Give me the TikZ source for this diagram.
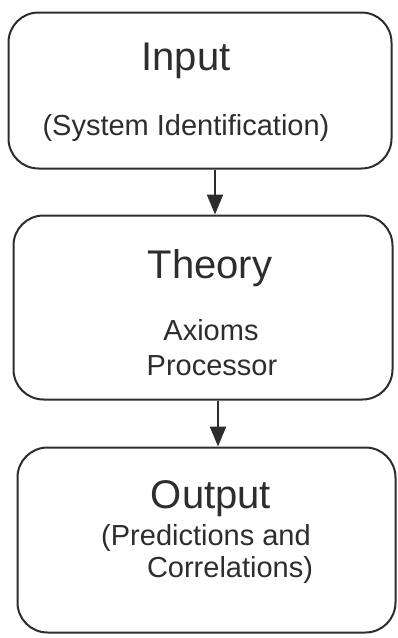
\documentclass[tikz,border=0pt]{standalone}
\usepackage{fontspec}
\setmainfont{Liberation Sans}
\usetikzlibrary{arrows.meta}
\definecolor{ink}{RGB}{45,45,45}
\tikzset{
  box/.style={draw=ink, line width=2pt, rounded corners=30pt, inner sep=0pt},
  big/.style={anchor=base, inner sep=0pt, text=ink, font=\fontsize{40}{48}\selectfont},
  small/.style={anchor=base, inner sep=0pt, text=ink, font=\fontsize{29}{35}\selectfont},
  arr/.style={draw=ink, line width=2pt, -{Triangle[length=20pt,width=16pt]}}
}
\begin{document}
\begin{tikzpicture}[x=1pt,y=-1pt]
\useasboundingbox (0,0) rectangle (398,638);
\node[box, minimum width=383pt, minimum height=156pt] (b1) at (200,90.5) {};
\node[box, minimum width=379pt, minimum height=184pt] (b2) at (203,307.5) {};
\node[box, minimum width=378pt, minimum height=185pt] (b3) at (206.5,540) {};
\node[big] (t1) at (186,70) {Input};
\node[small] (s1) at (186,135) {(System Identification)};
\node[big] (t2) at (210,278) {Theory};
\node[small] (s2a) at (211,340) {Axioms};
\node[small] (s2b) at (212,375) {Processor};
\node[big] (t3) at (211,508) {Output};
\node[small] (s3a) at (206,545) {(Predictions and};
\node[small] (s3b) at (230,577) {Correlations)};
\coordinate (a1) at (215,0);
\coordinate (a2) at (218,0);
\draw[arr] (b1.south -| a1) -- (b2.north -| a1);
\draw[arr] (b2.south -| a2) -- (b3.north -| a2);
\end{tikzpicture}
\end{document}
